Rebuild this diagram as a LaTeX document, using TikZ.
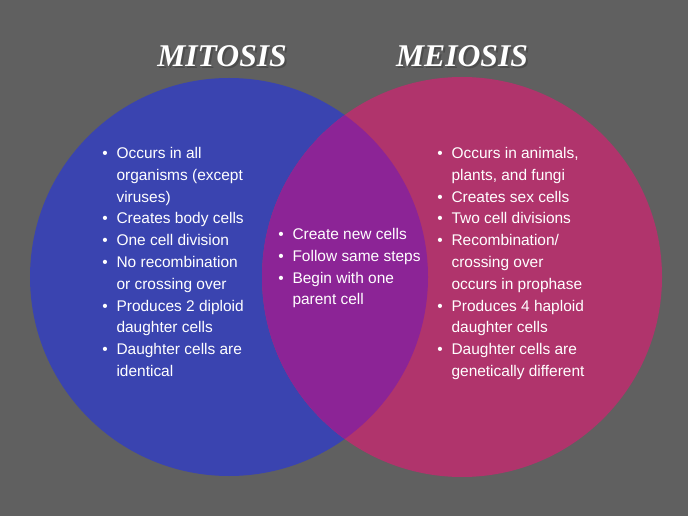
\documentclass[tikz,border=0pt]{standalone}
\usepackage{fontspec}
\setmainfont{Liberation Sans}
\newfontfamily\titlefont{Liberation Serif}
\definecolor{bggray}{RGB}{96,96,96}
\definecolor{mitblue}{RGB}{58,68,176}
\definecolor{meipink}{RGB}{176,52,108}
\definecolor{overlap}{RGB}{140,36,150}
\tikzset{
  listbox/.style={anchor=north west, inner sep=0pt, text=white,
    font=\fontsize{8.8}{12.4}\selectfont},
  titletext/.style={text=white, font=\titlefont\bfseries\itshape\fontsize{18}{20}\selectfont},
  titleshadow/.style={text=black!70, font=\titlefont\bfseries\itshape\fontsize{18}{20}\selectfont}
}
\begin{document}
\begin{tikzpicture}[x=0.02cm, y=-0.02cm]
\fill[bggray] (0,0) rectangle (688,516);
\useasboundingbox (0,0) rectangle (688,516);
% circles
\fill[mitblue] (229,277) circle [radius=199];
\fill[meipink] (462,277) circle [radius=200];
\begin{scope}
  \clip (229,277) circle [radius=199];
  \fill[overlap] (462,277) circle [radius=200];
\end{scope}
% titles
\node[titleshadow] at (224,58) {MITOSIS};
\node[titletext] (mitosis) at (222,56) {MITOSIS};
\node[titleshadow] at (464,58) {MEIOSIS};
\node[titletext] (meiosis) at (462,56) {MEIOSIS};
% lists
\node[listbox] (left) at (102,143) {%
\begin{tabular}{@{}l@{\hspace{5pt}}l@{}}
\textbullet & Occurs in all\\
 & organisms (except\\
 & viruses)\\
\textbullet & Creates body cells\\
\textbullet & One cell division\\
\textbullet & No recombination\\
 & or crossing over\\
\textbullet & Produces 2 diploid\\
 & daughter cells\\
\textbullet & Daughter cells are\\
 & identical
\end{tabular}};
\node[listbox] (middle) at (278,224) {%
\begin{tabular}{@{}l@{\hspace{5pt}}l@{}}
\textbullet & Create new cells\\
\textbullet & Follow same steps\\
\textbullet & Begin with one\\
 & parent cell
\end{tabular}};
\node[listbox] (right) at (437,143) {%
\begin{tabular}{@{}l@{\hspace{5pt}}l@{}}
\textbullet & Occurs in animals,\\
 & plants, and fungi\\
\textbullet & Creates sex cells\\
\textbullet & Two cell divisions\\
\textbullet & Recombination/\\
 & crossing over\\
 & occurs in prophase\\
\textbullet & Produces 4 haploid\\
 & daughter cells\\
\textbullet & Daughter cells are\\
 & genetically different
\end{tabular}};
\end{tikzpicture}
\end{document}
